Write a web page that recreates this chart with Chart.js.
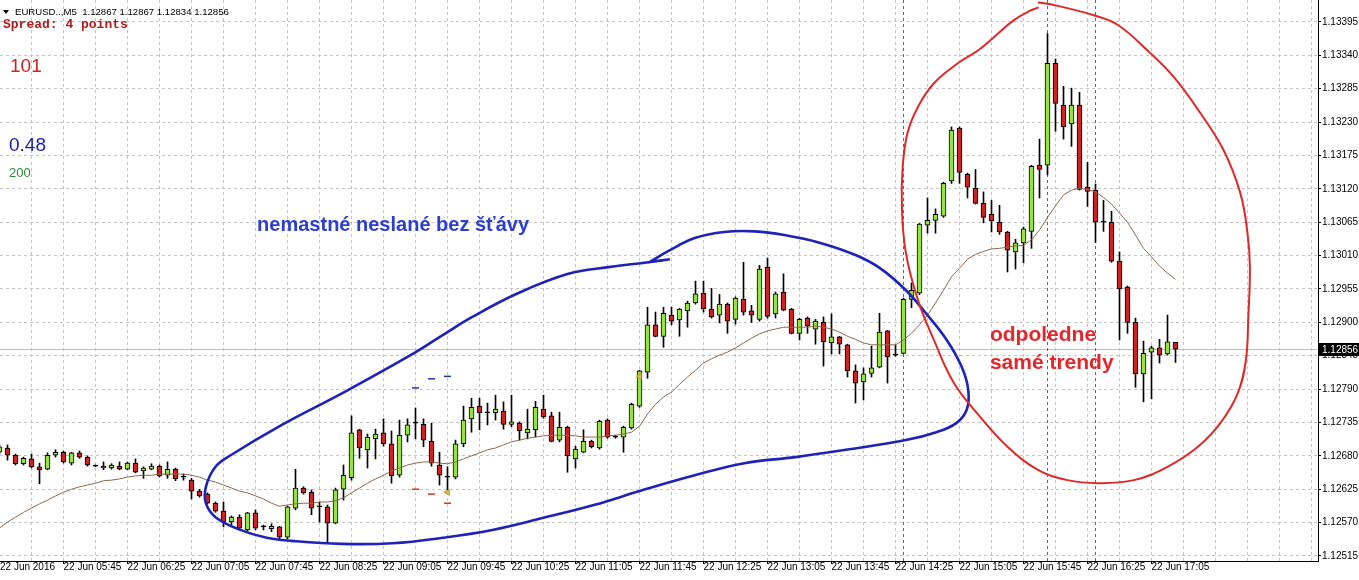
<!DOCTYPE html>
<html>
<head>
<meta charset="utf-8">
<script src="https://cdn.jsdelivr.net/npm/chart.js@4.4.0/dist/chart.umd.min.js"></script>
<style>
  html, body { margin: 0; padding: 0; background: #fff; }
  canvas { display: block; }
</style>
</head>
<body>
<canvas id="chart" width="1359" height="580"></canvas>
<script>
// EURUSD M5, 22 Jun 2016. Bar index 0 = 05:45, one bar = 5 minutes
const symbol = 'EURUSD..,M5';
const firstBar = -8;

const opens = [
  1.12686, 1.12693, 1.12681, 1.12667, 1.12675, 1.12662, 1.12658, 1.12681,
  1.12686, 1.12668, 1.12685, 1.12678, 1.12663, 1.12663, 1.12660, 1.12663, 1.12658, 1.12668,
  1.12655, 1.12658, 1.12663, 1.12648, 1.12658, 1.12645, 1.12640, 1.12622, 1.12617, 1.12602,
  1.12589, 1.12571, 1.12579, 1.12558, 1.12586, 1.12563, 1.12560, 1.12563, 1.12546, 1.12594,
  1.12627, 1.12620, 1.12596, 1.12596, 1.12569, 1.12625, 1.12644, 1.12723, 1.12690, 1.12708,
  1.12718, 1.12700, 1.12648, 1.12714, 1.12734, 1.12732, 1.12704, 1.12665, 1.12645, 1.12645,
  1.12700, 1.12741, 1.12762, 1.12751, 1.12751, 1.12754, 1.12732, 1.12734, 1.12718, 1.12723,
  1.12757, 1.12746, 1.12706, 1.12727, 1.12675, 1.12686, 1.12704, 1.12693, 1.12739, 1.12711,
  1.12711, 1.12726, 1.12762, 1.12818, 1.12896, 1.12877, 1.12912, 1.12904, 1.12919, 1.12932,
  1.12948, 1.12922, 1.12912, 1.12930, 1.12905, 1.12938, 1.12919, 1.12905, 1.12991, 1.12914,
  1.12950, 1.12922, 1.12882, 1.12907, 1.12889, 1.12900, 1.12866, 1.12876, 1.12863, 1.12820,
  1.12802, 1.12816, 1.12826, 1.12886, 1.12846, 1.12849, 1.12938, 1.12948, 1.13060, 1.13068,
  1.13075, 1.13133, 1.13220, 1.13144, 1.13121, 1.13096, 1.13078, 1.13065, 1.13049, 1.13016,
  1.13031, 1.13050, 1.13159, 1.13159, 1.13327, 1.13258, 1.13227, 1.13258, 1.13123, 1.13118,
  1.13065, 1.13065, 1.13001, 1.12958, 1.12900, 1.12815, 1.12851, 1.12858, 1.12848, 1.12867
];
const highs = [
  1.12698, 1.12698, 1.12683, 1.12678, 1.12683, 1.12668, 1.12685, 1.12690,
  1.12688, 1.12686, 1.12688, 1.12680, 1.12665, 1.12670, 1.12667, 1.12670, 1.12670, 1.12675,
  1.12662, 1.12667, 1.12665, 1.12670, 1.12660, 1.12650, 1.12643, 1.12625, 1.12619, 1.12604,
  1.12604, 1.12581, 1.12583, 1.12587, 1.12591, 1.12566, 1.12568, 1.12564, 1.12597, 1.12658,
  1.12629, 1.12624, 1.12604, 1.12599, 1.12627, 1.12665, 1.12746, 1.12724, 1.12716, 1.12724,
  1.12741, 1.12721, 1.12739, 1.12741, 1.12759, 1.12741, 1.12734, 1.12686, 1.12662, 1.12706,
  1.12762, 1.12775, 1.12775, 1.12767, 1.12780, 1.12769, 1.12780, 1.12736, 1.12757, 1.12770,
  1.12780, 1.12752, 1.12752, 1.12729, 1.12696, 1.12723, 1.12706, 1.12739, 1.12741, 1.12714,
  1.12729, 1.12767, 1.12821, 1.12925, 1.12917, 1.12925, 1.12925, 1.12923, 1.12935, 1.12968,
  1.12968, 1.12956, 1.12946, 1.12932, 1.12942, 1.12999, 1.12928, 1.12994, 1.13006, 1.12950,
  1.12980, 1.12923, 1.12907, 1.12909, 1.12905, 1.12909, 1.12914, 1.12877, 1.12864, 1.12830,
  1.12825, 1.12861, 1.12915, 1.12887, 1.12863, 1.12940, 1.12965, 1.13063, 1.13105, 1.13087,
  1.13131, 1.13222, 1.13222, 1.13146, 1.13152, 1.13115, 1.13101, 1.13093, 1.13050, 1.13037,
  1.13057, 1.13159, 1.13202, 1.13376, 1.13334, 1.13289, 1.13286, 1.13279, 1.13164, 1.13128,
  1.13101, 1.13083, 1.13016, 1.12960, 1.12907, 1.12869, 1.12861, 1.12872, 1.12912, 1.12867
];
const lows = [
  1.12683, 1.12673, 1.12665, 1.12665, 1.12660, 1.12634, 1.12657, 1.12678,
  1.12668, 1.12665, 1.12676, 1.12663, 1.12662, 1.12657, 1.12658, 1.12657, 1.12657, 1.12652,
  1.12643, 1.12657, 1.12645, 1.12643, 1.12639, 1.12640, 1.12609, 1.12612, 1.12601, 1.12587,
  1.12563, 1.12566, 1.12558, 1.12556, 1.12558, 1.12558, 1.12555, 1.12541, 1.12543, 1.12591,
  1.12617, 1.12583, 1.12571, 1.12536, 1.12568, 1.12607, 1.12640, 1.12676, 1.12660, 1.12675,
  1.12696, 1.12635, 1.12645, 1.12703, 1.12708, 1.12695, 1.12663, 1.12632, 1.12624, 1.12642,
  1.12695, 1.12719, 1.12723, 1.12731, 1.12739, 1.12724, 1.12728, 1.12706, 1.12708, 1.12711,
  1.12742, 1.12703, 1.12703, 1.12653, 1.12660, 1.12685, 1.12693, 1.12691, 1.12709, 1.12709,
  1.12686, 1.12724, 1.12760, 1.12808, 1.12876, 1.12859, 1.12896, 1.12877, 1.12892, 1.12930,
  1.12917, 1.12907, 1.12899, 1.12882, 1.12897, 1.12912, 1.12900, 1.12902, 1.12907, 1.12907,
  1.12919, 1.12881, 1.12871, 1.12882, 1.12864, 1.12828, 1.12848, 1.12848, 1.12810, 1.12767,
  1.12772, 1.12810, 1.12825, 1.12800, 1.12844, 1.12848, 1.12924, 1.12946, 1.13047, 1.13047,
  1.13073, 1.13129, 1.13129, 1.13105, 1.13095, 1.13064, 1.13049, 1.13045, 1.12983, 1.12988,
  1.12998, 1.13022, 1.13105, 1.13143, 1.13215, 1.13202, 1.13190, 1.13118, 1.13091, 1.13032,
  1.13050, 1.12999, 1.12871, 1.12882, 1.12793, 1.12769, 1.12774, 1.12833, 1.12846, 1.12834
];
const closes = [
  1.12695, 1.12681, 1.12667, 1.12676, 1.12662, 1.12657, 1.12681, 1.12686,
  1.12670, 1.12685, 1.12678, 1.12665, 1.12663, 1.12660, 1.12665, 1.12658, 1.12668, 1.12653,
  1.12660, 1.12663, 1.12647, 1.12658, 1.12642, 1.12645, 1.12622, 1.12614, 1.12602, 1.12589,
  1.12571, 1.12579, 1.12561, 1.12586, 1.12561, 1.12563, 1.12564, 1.12546, 1.12596, 1.12627,
  1.12619, 1.12594, 1.12596, 1.12569, 1.12624, 1.12648, 1.12718, 1.12693, 1.12711, 1.12716,
  1.12700, 1.12647, 1.12714, 1.12731, 1.12734, 1.12706, 1.12668, 1.12648, 1.12645, 1.12700,
  1.12739, 1.12760, 1.12751, 1.12751, 1.12757, 1.12732, 1.12736, 1.12721, 1.12724, 1.12760,
  1.12744, 1.12704, 1.12727, 1.12680, 1.12691, 1.12704, 1.12695, 1.12737, 1.12711, 1.12711,
  1.12727, 1.12765, 1.12820, 1.12896, 1.12877, 1.12915, 1.12902, 1.12922, 1.12932, 1.12947,
  1.12922, 1.12909, 1.12930, 1.12902, 1.12940, 1.12917, 1.12912, 1.12988, 1.12910, 1.12947,
  1.12920, 1.12882, 1.12905, 1.12894, 1.12902, 1.12868, 1.12876, 1.12864, 1.12820, 1.12800,
  1.12815, 1.12825, 1.12884, 1.12843, 1.12846, 1.12938, 1.12953, 1.13062, 1.13068, 1.13078,
  1.13129, 1.13217, 1.13147, 1.13123, 1.13096, 1.13073, 1.13067, 1.13049, 1.13019, 1.13031,
  1.13054, 1.13157, 1.13152, 1.13327, 1.13261, 1.13222, 1.13258, 1.13119, 1.13116, 1.13065,
  1.13065, 1.13001, 1.12955, 1.12900, 1.12815, 1.12849, 1.12858, 1.12846, 1.12868, 1.12856
];
// moving average line (brown)
const maValues = [
  1.12561, 1.12571, 1.12579, 1.12587, 1.12594, 1.12601, 1.12607, 1.12614,
  1.12620, 1.12625, 1.12629, 1.12632, 1.12635, 1.12639, 1.12640, 1.12642, 1.12645, 1.12647,
  1.12648, 1.12648, 1.12650, 1.12650, 1.12650, 1.12650, 1.12648, 1.12645, 1.12640, 1.12637,
  1.12632, 1.12627, 1.12622, 1.12619, 1.12614, 1.12609, 1.12602, 1.12597, 1.12599, 1.12601,
  1.12602, 1.12602, 1.12604, 1.12604, 1.12606, 1.12611, 1.12619, 1.12627, 1.12635, 1.12642,
  1.12648, 1.12655, 1.12660, 1.12665, 1.12668, 1.12670, 1.12670, 1.12668, 1.12667, 1.12670,
  1.12675, 1.12680, 1.12685, 1.12690, 1.12693, 1.12698, 1.12703, 1.12706, 1.12709, 1.12711,
  1.12713, 1.12714, 1.12714, 1.12714, 1.12713, 1.12711, 1.12711, 1.12711, 1.12713, 1.12714,
  1.12716, 1.12719, 1.12729, 1.12749, 1.12765, 1.12777, 1.12785, 1.12798, 1.12810, 1.12821,
  1.12833, 1.12840, 1.12846, 1.12851, 1.12858, 1.12866, 1.12874, 1.12881, 1.12886, 1.12889,
  1.12892, 1.12892, 1.12892, 1.12892, 1.12894, 1.12892, 1.12889, 1.12884, 1.12877, 1.12872,
  1.12866, 1.12863, 1.12863, 1.12863, 1.12863, 1.12871, 1.12882, 1.12896, 1.12912, 1.12932,
  1.12953, 1.12975, 1.12989, 1.13004, 1.13012, 1.13017, 1.13021, 1.13022, 1.13024, 1.13026,
  1.13027, 1.13036, 1.13052, 1.13073, 1.13092, 1.13110, 1.13118, 1.13121, 1.13119, 1.13115,
  1.13106, 1.13095, 1.13080, 1.13065, 1.13044, 1.13022, 1.13008, 1.12993, 1.12981, 1.12971
];

const yTicks = [1.12515, 1.12570, 1.12625, 1.12680, 1.12735, 1.12790, 1.12845, 1.12900, 1.12955,
                1.13010, 1.13065, 1.13120, 1.13175, 1.13230, 1.13285, 1.13340, 1.13395];
const xLabelBars = [0, 8, 16, 24, 32, 40, 48, 56, 64, 72, 80, 88, 96, 104, 112, 120, 128, 136];
const xLabels = ['22 Jun 05:45', '22 Jun 06:25', '22 Jun 07:05', '22 Jun 07:45', '22 Jun 08:25',
                 '22 Jun 09:05', '22 Jun 09:45', '22 Jun 10:25', '22 Jun 11:05', '22 Jun 11:45',
                 '22 Jun 12:25', '22 Jun 13:05', '22 Jun 13:45', '22 Jun 14:25', '22 Jun 15:05',
                 '22 Jun 15:45', '22 Jun 16:25', '22 Jun 17:05'];
const dateLabel = '22 Jun 2016';
const separatorBars = [105, 123, 129];

// order levels and arrows
const levelBars = [44, 46, 48];
const blueLevels = [1.12792, 1.12807, 1.12811];
const redLevels = [1.12625, 1.12617, 1.12602];
const arrowBars = [48, 72];
const arrowPrices = [1.12620, 1.12811];

// hand drawn loops, [bar, price]
const blueLoop = [
  [73.1, 1.12998], [75.8, 1.13019], [78.9, 1.13039], [82.6, 1.13049], [86.4, 1.13050], [90.1, 1.13044],
  [94.6, 1.13031], [99.0, 1.13011], [102.1, 1.12989], [105.3, 1.12953], [107.8, 1.12915], [110.4, 1.12871],
  [112.3, 1.12826], [113.1, 1.12788], [112.9, 1.12756], [111.6, 1.12734], [109.1, 1.12719], [105.3, 1.12706],
  [97.8, 1.12690], [91.5, 1.12678], [85.1, 1.12668], [78.9, 1.12648], [72.5, 1.12624], [66.3, 1.12599],
  [60.0, 1.12578], [53.6, 1.12558], [47.4, 1.12545], [41.1, 1.12536], [34.8, 1.12535], [28.5, 1.12540],
  [25.4, 1.12545], [22.1, 1.12558], [19.0, 1.12579], [17.8, 1.12602], [17.8, 1.12629], [19.0, 1.12662],
  [20.9, 1.12681], [27.3, 1.12731], [34.8, 1.12783], [43.0, 1.12843], [47.4, 1.12879], [51.1, 1.12909],
  [56.8, 1.12948], [63.1, 1.12980], [68.1, 1.12991], [73.1, 1.12999], [75.8, 1.13004]
];
const redLoop = [
  [121.8, 1.13427], [123.8, 1.13423], [128.8, 1.13406], [131.8, 1.13390], [135.5, 1.13348], [138.8, 1.13304],
  [142.1, 1.13245], [145.0, 1.13184], [147.1, 1.13113], [148.0, 1.13047], [148.3, 1.12991], [148.1, 1.12909],
  [147.8, 1.12838], [146.8, 1.12784], [144.6, 1.12734], [141.8, 1.12695], [138.0, 1.12662], [133.8, 1.12640],
  [129.3, 1.12635], [125.5, 1.12640], [121.8, 1.12657], [118.0, 1.12695], [114.6, 1.12744], [111.3, 1.12800],
  [108.8, 1.12871], [106.8, 1.12937], [105.3, 1.13014], [104.8, 1.13090], [104.9, 1.13156], [105.5, 1.13212],
  [106.8, 1.13255], [108.8, 1.13294], [111.8, 1.13327], [114.3, 1.13348], [116.3, 1.13370], [118.8, 1.13398],
  [120.9, 1.13414], [121.9, 1.13419]
];
const notes = [
  { text: 'nemastné neslané bez šťávy', bar: 24.2, price: 1.13060, color: '#2b3ed0', size: 20 },
  { text: 'odpoledne', bar: 115.8, price: 1.12879, color: '#e4262a', size: 21 },
  { text: 'samé trendy', bar: 115.8, price: 1.12833, color: '#e4262a', size: 21 }
];
const spreadText = 'Spread: 4 points';
const infoLabels = [
  { text: '101', x: 10, y: 67, color: '#d42222', font: '19px "Liberation Sans"' },
  { text: '0.48', x: 9, y: 146, color: '#1c1ca8', font: '19px "Liberation Sans"' },
  { text: '200', x: 9, y: 173, color: '#2e8b3a', font: '13px "Liberation Sans"' }
];

const bullColor = '#94e43c';
const bearColor = '#cc2222';
const gridColor = '#c4c4c4';
const yMin = 1.1250676;
const yMax = 1.1343125;

const bars = opens.map((o, i) => firstBar + i);
const bodyColors = opens.map((o, i) => closes[i] > o ? bullColor : (closes[i] < o ? bearColor : '#000'));
const gridBars = [];
for (let b = -4; b <= 156; b += 4) gridBars.push(b);

// vertical dashed separators as line datasets through the scales
const separatorSets = separatorBars.map(b => ({
  type: 'line', label: 'sep ' + b, order: 6,
  data: [{ x: b, y: yMin }, { x: b, y: yMax }],
  borderColor: '#e53030', borderWidth: 1, borderDash: [3, 3], pointRadius: 0, tension: 0
}));

const overlay = {
  id: 'overlay',
  beforeDatasetsDraw(chart) {
    const { ctx, chartArea: a, scales: { y } } = chart;
    ctx.save();
    const py = Math.floor(y.getPixelForValue(closes[closes.length - 1])) + 0.5;
    ctx.strokeStyle = '#bdbdbd';
    ctx.lineWidth = 1;
    ctx.beginPath(); ctx.moveTo(a.left, py); ctx.lineTo(a.right, py); ctx.stroke();
    ctx.restore();
  },
  afterDatasetsDraw(chart) {
    const { ctx, scales: { x, y } } = chart;
    ctx.save();
    ctx.textBaseline = 'middle';
    ctx.textAlign = 'left';
    notes.forEach(n => {
      ctx.font = 'bold ' + n.size + 'px "Liberation Sans"';
      ctx.fillStyle = n.color;
      ctx.fillText(n.text, x.getPixelForValue(n.bar), y.getPixelForValue(n.price));
    });
    ctx.restore();
  },
  afterDraw(chart) {
    const { ctx, chartArea: a, scales: { y } } = chart;
    const last = opens.length - 1;
    ctx.save();
    ctx.textBaseline = 'middle';
    ctx.textAlign = 'left';
    // header line
    ctx.fillStyle = '#000';
    ctx.beginPath(); ctx.moveTo(3, 10); ctx.lineTo(9, 10); ctx.lineTo(6, 14); ctx.closePath(); ctx.fill();
    ctx.font = '9.6px "Liberation Sans"';
    const ohlc = [opens[last], highs[last], lows[last], closes[last]].map(v => v.toFixed(5)).join(' ');
    ctx.fillText(symbol + '  ' + ohlc, 15, 12.5);
    ctx.font = 'bold 13px "Liberation Mono"';
    ctx.fillStyle = '#b01c1c';
    ctx.fillText(spreadText, 3, 25);
    infoLabels.forEach(l => {
      ctx.font = l.font;
      ctx.fillStyle = l.color;
      ctx.fillText(l.text, l.x, l.y);
    });
    // last price box on the axis
    const py = Math.floor(y.getPixelForValue(closes[last])) + 0.5;
    ctx.fillStyle = '#000';
    ctx.fillRect(a.right + 1, py - 6.5, chart.width - a.right - 1, 13);
    ctx.fillStyle = '#fff';
    ctx.font = '10px "Liberation Sans"';
    ctx.fillText(closes[last].toFixed(5), a.right + 4, py + 0.5);
    ctx.restore();
  }
};

const axisFont = { family: '"Liberation Sans"', size: 10 };

new Chart(document.getElementById('chart'), {
  type: 'bar',
  data: {
    datasets: [
      {
        type: 'line', label: 'red loop', order: 0,
        data: redLoop.map(p => ({ x: p[0], y: p[1] })),
        borderColor: '#e0282a', borderWidth: 2, pointRadius: 0, tension: 0.4, fill: false
      },
      {
        type: 'line', label: 'blue loop', order: 1,
        data: blueLoop.map(p => ({ x: p[0], y: p[1] })),
        borderColor: '#1e22b8', borderWidth: 2.6, pointRadius: 0, tension: 0.4, fill: false
      },
      {
        type: 'line', label: 'tp', order: 2, showLine: false,
        data: levelBars.map((b, i) => ({ x: b, y: blueLevels[i] })),
        pointStyle: 'line', pointRadius: 3.5, pointBorderWidth: 1.5, borderColor: '#23349a'
      },
      {
        type: 'line', label: 'sl', order: 2, showLine: false,
        data: levelBars.map((b, i) => ({ x: b, y: redLevels[i] })),
        pointStyle: 'line', pointRadius: 3.5, pointBorderWidth: 1.5, borderColor: '#d83030'
      },
      {
        type: 'line', label: 'arrows', order: 2, showLine: false,
        data: arrowBars.map((b, i) => ({ x: b, y: arrowPrices[i] })),
        pointStyle: 'triangle', pointRotation: 270, pointRadius: 3.5,
        backgroundColor: '#d2bb55', borderColor: '#b09a3a', pointBorderWidth: 1
      },
      {
        type: 'line', label: 'MA', order: 3,
        data: bars.map((b, i) => ({ x: b, y: maValues[i] })),
        borderColor: '#8a6a4e', borderWidth: 1, pointRadius: 0, tension: 0
      },
      {
        type: 'bar', label: 'body', order: 4,
        data: bars.map((b, i) => ({ x: b, y: [opens[i], closes[i]] })),
        backgroundColor: bodyColors, borderColor: '#000', borderWidth: 1, borderSkipped: false,
        barThickness: 5, minBarLength: 1, grouped: false
      },
      {
        type: 'bar', label: 'wick', order: 5,
        data: bars.map((b, i) => ({ x: b, y: [lows[i], highs[i]] })),
        backgroundColor: '#000', borderWidth: 0, barThickness: 1, grouped: false
      }
    ].concat(separatorSets)
  },
  options: {
    responsive: false,
    devicePixelRatio: 1,
    animation: false,
    events: [],
    layout: { padding: 0, autoPadding: false },
    plugins: { legend: { display: false }, tooltip: { enabled: false }, title: { display: false } },
    scales: {
      x: {
        type: 'linear',
        min: -7.9375,
        max: 156.8125,
        offset: false,
        afterBuildTicks: s => { s.ticks = [{ value: s.min }].concat(gridBars.map(v => ({ value: v }))); },
        afterFit: s => { s.height = 19; s.paddingLeft = 0; s.paddingRight = 0; },
        ticks: {
          autoSkip: false, maxRotation: 0, minRotation: 0, align: 'start', padding: -3,
          color: '#000', font: axisFont,
          callback: (v, i) => {
            if (i === 0) return dateLabel;
            const j = xLabelBars.indexOf(v);
            return j >= 0 ? xLabels[j] : '';
          }
        },
        grid: {
          offset: false,
          color: c => (c.index === 0 ? 'rgba(0,0,0,0)' : gridColor),
          tickColor: c => (c.tick && xLabelBars.indexOf(c.tick.value) >= 0 ? '#000' : 'rgba(0,0,0,0)'),
          tickLength: 3,
          lineWidth: 1
        },
        border: { display: true, color: '#000', width: 1, dash: [3, 3] }
      },
      y: {
        type: 'linear',
        position: 'right',
        min: yMin,
        max: yMax,
        bounds: 'data',
        beginAtZero: false,
        afterBuildTicks: s => { s.ticks = yTicks.map(v => ({ value: v })); },
        afterFit: s => { s.width = 41; s.paddingTop = 0; s.paddingBottom = 0; },
        ticks: { color: '#000', font: axisFont, padding: 1, callback: v => v.toFixed(5) },
        grid: { color: gridColor, tickColor: '#000', tickLength: 3, lineWidth: 1 },
        border: { display: true, color: '#000', width: 1, dash: [3, 3] }
      }
    }
  },
  plugins: [overlay]
});
</script>
</body>
</html>
